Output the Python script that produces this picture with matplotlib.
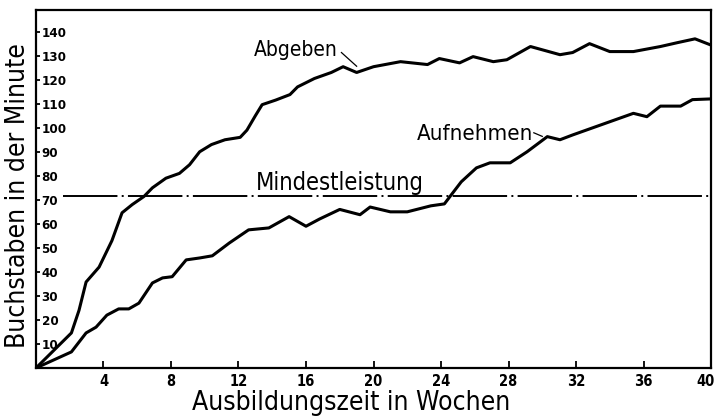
import matplotlib
matplotlib.use("Agg")
import matplotlib.pyplot as plt
import matplotlib.transforms as mtransforms
from matplotlib import font_manager
from matplotlib.font_manager import FontProperties

# Lernkurven: Buchstaben pro Minute ueber die Ausbildungszeit
abgeben_wochen = [0, 2.1, 2.55, 2.97, 3.74, 4.5, 5.1, 5.7, 6.4, 6.9, 7.7, 8.5, 9.1, 9.7,
                  10.4, 11.2, 12.1, 12.5, 13.0, 13.4, 14.2, 15.05, 15.5, 16.5, 17.5, 18.2,
                  19.0, 20.0, 21.6, 23.2, 23.9, 25.1, 25.9, 27.1, 27.9, 29.3, 31.05, 31.8,
                  32.8, 34.0, 35.4, 37.0, 38.0, 39.05, 40.0]
abgeben_werte = [0, 14.6, 24, 35.8, 42, 53, 64.6, 68, 71.4, 75, 79, 81, 84.6, 90,
                 93, 95, 96, 99, 105, 109.6, 111.5, 113.8, 117, 120.5, 123, 125.4,
                 123, 125.4, 127.5, 126.3, 128.8, 127, 129.6, 127.5, 128.3, 133.8, 130.4, 131.3,
                 135, 131.7, 131.7, 133.8, 135.4, 137, 134.4]

aufnehmen_wochen = [0, 2.1, 2.97, 3.56, 4.2, 4.9, 5.5, 6.1, 6.9, 7.5, 8.07, 8.9, 9.7, 10.45,
                    11.45, 12.6, 13.8, 15.0, 16.0, 16.8, 18.0, 19.2, 19.8, 21.0, 22.0, 23.4,
                    24.2, 24.6, 25.2, 26.1, 26.9, 28.1, 29.1, 30.3, 31.05, 31.8, 33.4, 34.6,
                    35.4, 36.2, 37.0, 38.2, 38.9, 40.0]
aufnehmen_werte = [0, 6.7, 14.6, 17, 22, 24.6, 24.6, 27, 35.4, 37.5, 38, 45, 45.8, 46.7,
                   52, 57.5, 58.3, 63, 59, 62, 66, 63.8, 67, 65, 65, 67.5,
                   68.3, 72, 77.5, 83.3, 85.4, 85.4, 90, 96.3, 95, 97, 101, 104,
                   106, 104.6, 109, 109, 111.7, 112]

mindestleistung = 71.5

x_ticks = [4, 8, 12, 16, 20, 24, 28, 32, 36, 40]
y_ticks = [10, 20, 30, 40, 50, 60, 70, 80, 90, 100, 110, 120, 130, 140]

# schmale Schrift bevorzugen, sonst Liberation Sans
fonts = font_manager.fontManager.ttflist
if any(f.name == "DejaVu Sans" and f.stretch == "condensed" for f in fonts):
    fam, stretch = "DejaVu Sans", "condensed"
elif any(f.name == "Liberation Sans Narrow" for f in fonts):
    fam, stretch = "Liberation Sans Narrow", "normal"
else:
    fam, stretch = "Liberation Sans", "normal"


def fp(size, weight="normal"):
    return FontProperties(family=fam, stretch=stretch, size=size, weight=weight)


fig = plt.figure(figsize=(7.18, 4.17), dpi=100)
ax = fig.add_axes([0.0501, 0.1175, 0.9402, 0.8585])

ax.plot(abgeben_wochen, abgeben_werte, color="black", lw=2.2, solid_joinstyle="round")
ax.plot(aufnehmen_wochen, aufnehmen_werte, color="black", lw=2.2, solid_joinstyle="round")
ax.hlines(mindestleistung, 1.6, 40, color="black", lw=1.4, linestyles=[(0, (28, 2.2, 1, 2.2))])

ax.set_xlim(0, 40)
ax.set_ylim(0, 149)
ax.set_xticks(x_ticks)
ax.set_yticks(y_ticks)
ax.set_xticklabels([str(t) for t in x_ticks], fontproperties=fp(10.5, "bold"))
ax.set_yticklabels([str(t) for t in y_ticks], fontproperties=fp(9.5, "bold"))
ax.tick_params(axis="x", direction="in", length=5, width=1.3, pad=4)
ax.tick_params(axis="y", direction="in", length=3, width=1.3, pad=-4)
for lbl in ax.get_yticklabels():
    lbl.set_horizontalalignment("left")
# letzte Zahl etwas nach links, damit sie nicht am Rand abgeschnitten wird
last = ax.get_xticklabels()[-1]
last.set_transform(last.get_transform() + mtransforms.ScaledTranslation(-4 / 72, 0, fig.dpi_scale_trans))
for sp in ax.spines.values():
    sp.set_linewidth(1.6)

# Beschriftungen der Kurven
ax.text(15.4, 129.7, "Abgeben", fontproperties=fp(15), ha="center", va="baseline")
ax.plot([18.1, 19.0], [131.3, 125.6], color="black", lw=0.9)
ax.text(26.0, 95.0, "Aufnehmen", fontproperties=fp(16), ha="center", va="baseline")
ax.plot([29.5, 30.0], [97.9, 96.4], color="black", lw=0.9)
ax.text(18.0, 74.2, "Mindestleistung", fontproperties=fp(17), ha="center", va="baseline")

fig.text(0.489, 0.0168, "Ausbildungszeit in Wochen", fontproperties=fp(19),
         ha="center", va="baseline")
fig.text(0.025, 0.532, "Buchstaben in der Minute", fontproperties=fp(19),
         rotation=90, ha="center", va="center")

fig.savefig("out.png", dpi=100, facecolor="white")
